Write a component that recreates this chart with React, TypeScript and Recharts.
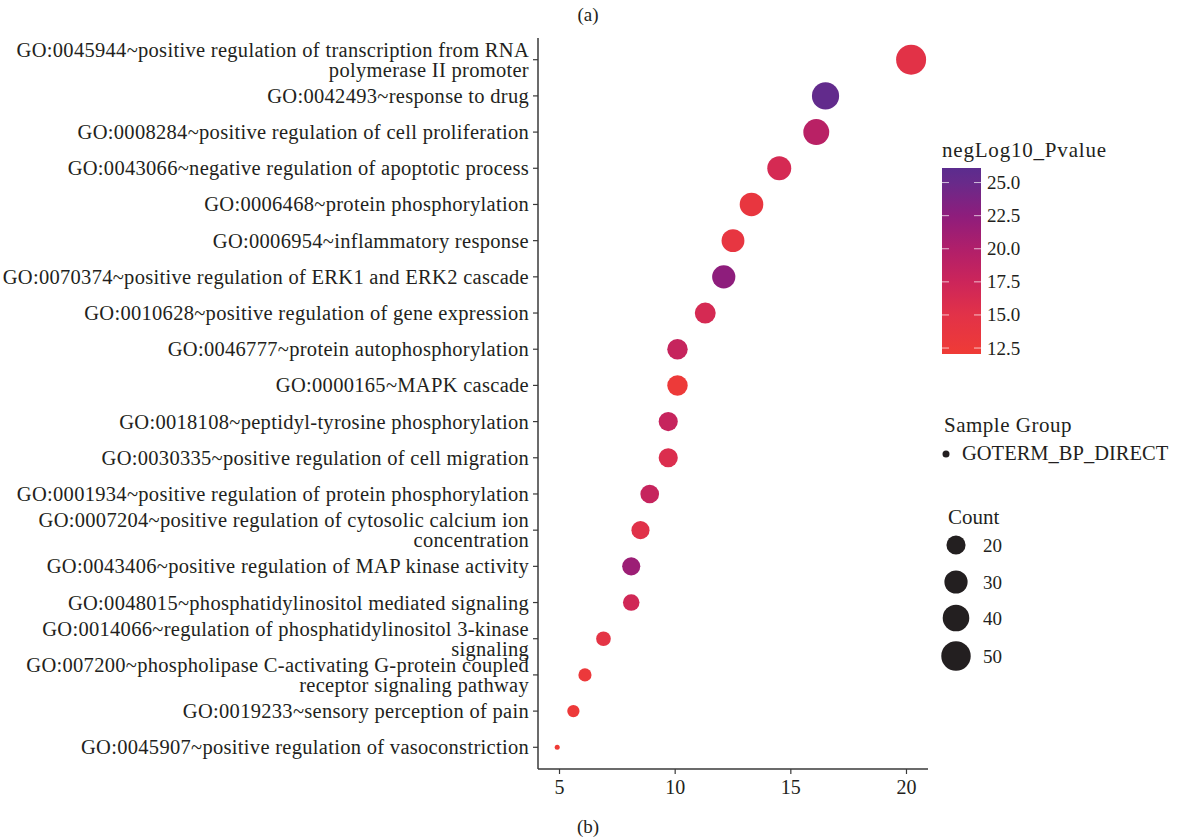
import { ScatterChart, Scatter, XAxis, YAxis, ZAxis } from 'recharts';

const TERMS = [
  'GO:0045944~positive regulation of transcription from RNA\npolymerase II promoter',
  'GO:0042493~response to drug',
  'GO:0008284~positive regulation of cell proliferation',
  'GO:0043066~negative regulation of apoptotic process',
  'GO:0006468~protein phosphorylation',
  'GO:0006954~inflammatory response',
  'GO:0070374~positive regulation of ERK1 and ERK2 cascade',
  'GO:0010628~positive regulation of gene expression',
  'GO:0046777~protein autophosphorylation',
  'GO:0000165~MAPK cascade',
  'GO:0018108~peptidyl-tyrosine phosphorylation',
  'GO:0030335~positive regulation of cell migration',
  'GO:0001934~positive regulation of protein phosphorylation',
  'GO:0007204~positive regulation of cytosolic calcium ion\nconcentration',
  'GO:0043406~positive regulation of MAP kinase activity',
  'GO:0048015~phosphatidylinositol mediated signaling',
  'GO:0014066~regulation of phosphatidylinositol 3-kinase\nsignaling',
  'GO:007200~phospholipase C-activating G-protein coupled\nreceptor signaling pathway',
  'GO:0019233~sensory perception of pain',
  'GO:0045907~positive regulation of vasoconstriction',
];

const X_VALUES = [20.2, 16.5, 16.1, 14.5, 13.3, 12.5, 12.1, 11.3, 10.1, 10.1, 9.7, 9.7, 8.9, 8.5, 8.1, 8.1, 6.9, 6.1, 5.6, 4.9];
const COUNTS = [52, 42, 38, 32, 31, 29, 30, 24, 23, 23, 20, 20, 19, 18, 18, 15, 12, 10, 9, 5];
const NEG_LOG10_P = [14.9, 25.5, 19.2, 16.5, 13.6, 13.8, 22.5, 16.5, 18, 12.5, 18, 15.8, 18, 15.2, 21.5, 17, 14.5, 12.8, 12.6, 12.1];

const X_TICKS = [5, 10, 15, 20];
const COLOR_TICKS = [12.5, 15, 17.5, 20, 22.5, 25];
const COUNT_BREAKS = [20, 30, 40, 50];

const COLOR_MIN = 12.05;
const COLOR_MAX = 26.1;
const COLOR_STOPS = [
  { v: 12.05, c: [239, 59, 54] },
  { v: 15, c: [226, 50, 72] },
  { v: 17.5, c: [204, 37, 90] },
  { v: 20, c: [176, 31, 106] },
  { v: 22.5, c: [142, 29, 124] },
  { v: 25, c: [104, 42, 138] },
  { v: 26.1, c: [91, 44, 142] },
];

const COUNT_MIN = 5;
const COUNT_MAX = 52;

function colorFor(v: number) {
  for (let i = 1; i < COLOR_STOPS.length; i++) {
    const a = COLOR_STOPS[i - 1];
    const b = COLOR_STOPS[i];
    if (v <= b.v || i === COLOR_STOPS.length - 1) {
      const t = Math.max(0, Math.min(1, (v - a.v) / (b.v - a.v)));
      const c = a.c.map((x, k) => Math.round(x + (b.c[k] - x) * t));
      return `rgb(${c[0]},${c[1]},${c[2]})`;
    }
  }
  return 'red';
}

// ggplot-like size scale: diameter grows with sqrt of rescaled count
function diameterFor(count: number) {
  const t = Math.max(0, (count - COUNT_MIN) / (COUNT_MAX - COUNT_MIN));
  return 5 + 25 * Math.sqrt(t);
}

const data = TERMS.map((term, i) => ({
  rank: i + 1,
  term,
  x: X_VALUES[i],
  count: COUNTS[i],
  p: NEG_LOG10_P[i],
}));

const FONT = '"Liberation Serif", "Times New Roman", serif';
const AXIS_COLOR = '#3a3a3a';
const INK = '#231f20';

function TermTick(props: any) {
  const { x, y, payload } = props;
  const term = TERMS[payload.value - 1] || '';
  const lines = term.split('\n');
  const start = -((lines.length - 1) * 20) / 2;
  return (
    <text x={x} y={y} textAnchor="end" fill={INK} fontSize={20.5} letterSpacing={0.3} fontFamily={FONT}>
      {lines.map((l, i) => (
        <tspan key={i} x={x} y={y + start + i * 20} dominantBaseline="central">
          {l}
        </tspan>
      ))}
    </text>
  );
}

function Dot(props: any) {
  const { cx, cy, payload } = props;
  return <circle cx={cx} cy={cy} r={diameterFor(payload.count) / 2} fill={colorFor(payload.p)} />;
}

function Legends() {
  const barTop = 168;
  const barH = 186;
  const yOf = (v: number) => barTop + ((COLOR_MAX - v) / (COLOR_MAX - COLOR_MIN)) * barH;
  const countY = [545, 582, 618, 656];
  return (
    <svg width={1178} height={840} style={{ position: 'absolute', left: 0, top: 0, pointerEvents: 'none' }}>
      <defs>
        <linearGradient id="pgrad" x1="0" y1="1" x2="0" y2="0">
          {COLOR_STOPS.map((s) => (
            <stop
              key={s.v}
              offset={(s.v - COLOR_MIN) / (COLOR_MAX - COLOR_MIN)}
              stopColor={`rgb(${s.c[0]},${s.c[1]},${s.c[2]})`}
            />
          ))}
        </linearGradient>
      </defs>
      <g fontFamily={FONT} fill={INK}>
        <text x={588} y={14} textAnchor="middle" dominantBaseline="central" fontSize={19}>(a)</text>
        <text x={588} y={826} textAnchor="middle" dominantBaseline="central" fontSize={19}>(b)</text>

        <text x={942} y={150} dominantBaseline="central" fontSize={21} letterSpacing={0.8}>negLog10_Pvalue</text>
        <rect x={942} y={barTop} width={39} height={barH} fill="url(#pgrad)" />
        {COLOR_TICKS.map((v) => (
          <g key={v}>
            <line x1={942} x2={949} y1={yOf(v)} y2={yOf(v)} stroke="#fff" strokeOpacity={0.7} strokeWidth={1} />
            <line x1={974} x2={981} y1={yOf(v)} y2={yOf(v)} stroke="#fff" strokeOpacity={0.7} strokeWidth={1} />
            <text x={987} y={yOf(v)} dominantBaseline="central" fontSize={19}>{v.toFixed(1)}</text>
          </g>
        ))}

        <text x={944} y={425} dominantBaseline="central" fontSize={21} letterSpacing={0.5}>Sample Group</text>
        <circle cx={946} cy={454} r={3.5} fill={INK} />
        <text x={962} y={453} dominantBaseline="central" fontSize={20.5}>GOTERM_BP_DIRECT</text>

        <text x={948} y={517} dominantBaseline="central" fontSize={21}>Count</text>
        {COUNT_BREAKS.map((c, i) => (
          <g key={c}>
            <circle cx={956} cy={countY[i]} r={diameterFor(c) / 2} fill={INK} />
            <text x={983} y={countY[i]} dominantBaseline="central" fontSize={19}>{c}</text>
          </g>
        ))}
      </g>
    </svg>
  );
}

export default function App() {
  return (
    <div style={{ position: 'absolute', left: 0, top: 0, width: 1178, height: 840, background: '#fff' }}>
      <ScatterChart width={1178} height={840} margin={{ top: 38, right: 250, bottom: 41, left: 8 }}>
        <XAxis
          type="number"
          dataKey="x"
          domain={[4.07, 20.93]}
          ticks={X_TICKS}
          allowDataOverflow
          axisLine={{ stroke: AXIS_COLOR, strokeWidth: 1.5 }}
          tickLine={{ stroke: AXIS_COLOR, strokeWidth: 1.2 }}
          tickSize={5}
          tickMargin={6}
          height={30}
          tick={{ fill: INK, fontSize: 20, fontFamily: FONT }}
        />
        <YAxis
          type="number"
          dataKey="rank"
          domain={[0.4, 20.6]}
          reversed
          ticks={data.map((d) => d.rank)}
          interval={0}
          allowDataOverflow
          width={530}
          axisLine={{ stroke: AXIS_COLOR, strokeWidth: 1.5 }}
          tickLine={{ stroke: AXIS_COLOR, strokeWidth: 1.2 }}
          tickSize={5}
          tickMargin={4}
          tick={<TermTick />}
        />
        <ZAxis type="number" dataKey="count" range={[60, 60]} />
        <Scatter data={data} shape={<Dot />} isAnimationActive={false} />
      </ScatterChart>
      <Legends />
    </div>
  );
}
